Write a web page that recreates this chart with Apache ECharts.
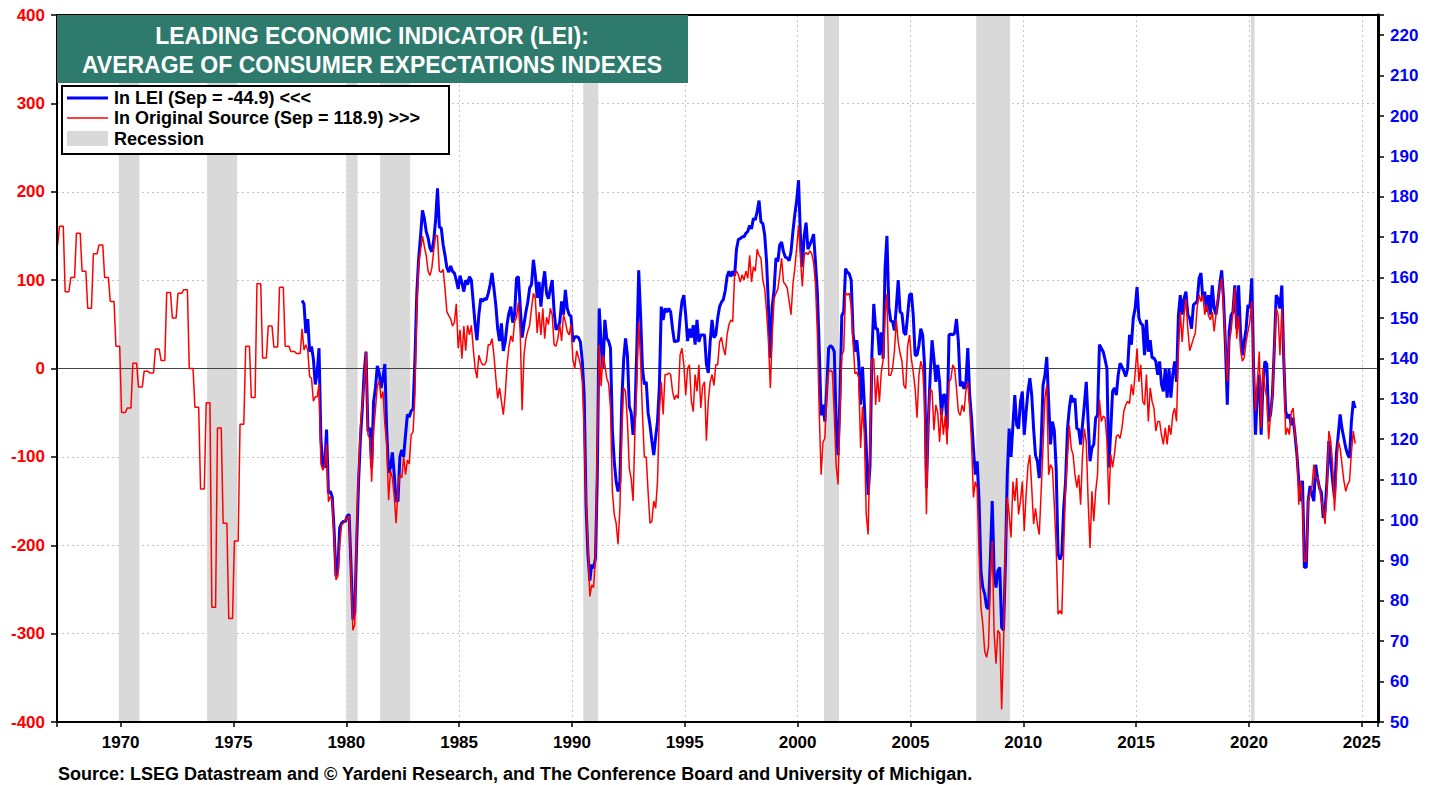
<!DOCTYPE html>
<html>
<head>
<meta charset="utf-8">
<title>LEI: Average of Consumer Expectations Indexes</title>
<script src="https://cdn.jsdelivr.net/npm/echarts@6.0.0/dist/echarts.min.js"></script>
<style>
  html, body { margin: 0; padding: 0; background: #fff; }
  #chart { width: 1439px; height: 785px; }
</style>
</head>
<body>
<div id="chart"></div>
<script>
// NBER recessions: [startYear, startMonth, endYear, endMonth]
const recessions = [
  [1969, 12, 1970, 11],
  [1973, 11, 1975, 3],
  [1980, 1, 1980, 7],
  [1981, 7, 1982, 11],
  [1990, 7, 1991, 3],
  [2001, 3, 2001, 11],
  [2007, 12, 2009, 6],
  [2020, 2, 2020, 4]
];

// In original source, quarterly 1967Q1 - 1977Q4 (series starts Feb 1967)
const origQuarterly = [
  168.1, 172.7, 156.5, 160.0,
  171.0, 161.6, 152.4, 165.9,
  168.1, 160.0, 154.1, 143.0,
  126.6, 127.7, 138.8, 132.9,
  136.8, 136.4, 142.3, 139.5,
  156.3, 150.0, 156.1, 157.0,
  137.5, 127.9, 107.7, 129.0,
  78.4, 122.8, 99.2, 75.6,
  94.8, 123.7, 143.0, 130.3,
  158.5, 140.1, 148.0, 142.8,
  157.6, 143.0, 141.7, 141.2
];

// In original source, monthly from Jan 1978
const origFrom1978 = [
  147.3, 142.1, 143.4, 142.1, 135.5, 135.1, 129.4, 130.5, 130.5, 133.6, 113.9, 112.3,
  113.4, 118.9, 104.5, 105.8, 104.7, 95.9, 85.2, 86.1, 93.8, 98.8, 99.2, 100.1,
  100.5, 101.0, 87.2, 72.7, 74.1, 97.7, 111.2, 122.8, 128.8, 133.6, 141.7, 121.1,
  120.2, 109.5, 122.0, 127.4, 133.1, 134.4, 130.1, 131.8, 123.7, 118.9, 104.9, 112.3,
  110.4, 105.8, 99.2, 107.7, 111.2, 110.4, 115.6, 111.2, 114.8, 113.9, 121.1, 121.8,
  130.9, 152.8, 163.3, 166.8, 170.3, 167.7, 165.5, 161.6, 160.5, 162.4, 166.8, 170.5,
  170.3, 161.6, 161.3, 162.0, 157.2, 151.5, 150.6, 149.8, 148.0, 148.9, 153.5, 142.5,
  147.1, 139.9, 148.0, 141.9, 148.2, 145.8, 148.2, 142.5, 137.5, 135.1, 140.8, 139.3,
  138.4, 138.4, 139.3, 143.4, 143.4, 144.9, 140.8, 135.3, 130.1, 132.7, 129.4, 126.1,
  130.9, 138.4, 143.0, 145.6, 144.1, 149.1, 150.0, 153.9, 146.3, 127.2, 140.8, 144.9,
  146.7, 148.2, 152.4, 156.1, 155.0, 146.3, 151.5, 145.8, 152.4, 144.9, 150.2, 148.4,
  152.4, 150.8, 143.4, 143.0, 144.9, 148.4, 144.3, 150.8, 149.1, 146.7, 145.8, 148.4
];
const origFrom1990 = [
  139.7, 137.5, 141.9, 140.3, 138.4, 134.2, 122.0, 104.7, 93.8, 81.1, 83.9, 83.3,
  90.7, 117.8, 143.4, 133.1, 140.8, 138.4, 135.1, 133.8, 127.7, 106.9, 101.4, 99.2,
  94.0, 102.9, 122.0, 132.7, 131.8, 124.4, 112.8, 110.2, 104.7, 122.0, 134.2, 149.1,
  139.7, 126.1, 115.6, 115.6, 106.9, 99.2, 99.7, 104.7, 102.9, 109.5, 126.6, 134.2,
  126.1, 136.0, 136.0, 136.4, 136.0, 131.8, 129.8, 130.9, 130.1, 140.8, 142.5, 138.4,
  130.9, 137.5, 138.4, 129.4, 126.8, 136.0, 131.8, 138.4, 127.7, 133.1, 134.2, 119.6,
  129.4, 134.2, 136.0, 133.3, 138.4, 138.4, 144.1, 145.2, 142.5, 140.8, 145.8, 148.4,
  149.5, 149.1, 160.7, 161.6, 160.7, 158.9, 160.7, 159.4, 161.6, 159.8, 165.5, 158.9,
  162.7, 161.6, 167.0, 165.5, 164.8, 159.4, 157.2, 151.7, 144.1, 132.7, 145.8, 154.8,
  156.1, 157.2, 160.7, 164.8, 158.9, 158.3, 157.4, 154.1, 150.8, 158.3, 162.2, 167.3
];
const origFrom2000 = [
  172.9, 164.8, 157.8, 165.5, 166.2, 165.7, 166.6, 165.9, 163.8, 158.3, 146.3, 126.6,
  111.2, 119.3, 120.2, 131.8, 136.6, 137.1, 136.6, 125.9, 113.4, 108.8, 126.6, 140.8,
  141.9, 156.3, 155.7, 156.1, 152.8, 144.1, 136.2, 136.6, 135.3, 117.8, 128.1, 121.1,
  101.4, 96.4, 118.7, 139.9, 139.9, 128.5, 135.8, 129.2, 136.6, 139.7, 150.6, 155.9,
  135.8, 135.8, 137.5, 141.9, 149.5, 144.1, 141.2, 139.3, 133.3, 132.5, 143.0, 145.8,
  139.9, 136.6, 132.5, 125.3, 135.8, 139.3, 137.5, 128.8, 101.4, 124.4, 132.5, 131.8,
  122.2, 128.5, 126.6, 119.3, 127.7, 121.1, 125.9, 118.7, 134.2, 134.9, 138.4, 137.5,
  132.5, 126.8, 125.9, 128.5, 126.8, 132.0, 134.2, 127.7, 119.3, 105.6, 109.5, 108.0,
  91.6, 78.4, 74.1, 67.5, 66.0, 68.6, 85.0, 94.8, 71.9, 64.4, 72.7, 71.9,
  53.1, 68.6, 93.1, 105.6, 101.4, 95.7, 109.5, 104.7, 110.4, 101.4, 104.7, 109.5
];
const origFrom2010 = [
  97.3, 106.2, 113.4, 116.1, 108.0, 99.0, 102.9, 99.0, 96.4, 106.9, 117.8, 130.1,
  133.3, 111.2, 113.7, 112.8, 103.8, 93.1, 76.7, 77.6, 76.7, 93.1, 108.0, 115.6,
  123.5, 117.8, 116.1, 111.2, 108.0, 111.2, 103.8, 116.1, 122.6, 119.3, 104.7, 93.1,
  107.1, 99.7, 107.1, 111.2, 129.8, 124.4, 125.7, 125.3, 119.6, 103.8, 116.3, 113.0,
  116.3, 120.7, 121.1, 120.2, 122.8, 127.0, 128.5, 129.4, 128.8, 133.6, 130.9, 136.4,
  142.5, 134.2, 138.4, 129.4, 128.5, 136.0, 124.4, 132.7, 129.4, 127.7, 122.0, 124.4,
  124.4, 121.1, 118.7, 122.8, 118.7, 123.5, 121.1, 126.1, 127.7, 124.4, 141.7, 151.5,
  144.1, 150.8, 154.8, 147.3, 141.9, 143.4, 144.9, 146.3, 152.8, 155.7, 154.1, 155.7,
  150.8, 153.3, 150.6, 149.5, 151.5, 146.7, 150.8, 154.8, 157.4, 159.8, 152.8, 144.1,
  134.2, 144.1, 146.7, 151.5, 157.4, 144.9, 150.6, 142.5, 139.3, 140.1, 144.1, 146.7,
  149.1, 154.1, 137.5, 127.0, 134.2, 141.7, 122.8, 137.5, 132.7, 130.3, 120.0, 126.1,
  130.3, 142.5, 152.4, 150.8, 140.8, 152.4, 142.5, 121.1, 122.8, 121.1, 126.6, 127.7,
  121.1, 117.8, 103.8, 109.7, 103.8, 89.8, 89.8, 104.7, 106.4, 108.0, 113.7, 110.4,
  110.4, 108.0, 104.7, 102.3, 99.0, 108.0, 122.0, 119.6, 113.7, 102.3, 111.2, 119.6,
  117.8, 113.7, 109.7, 107.1, 108.8, 109.7, 116.7, 122.0, 118.9
];

// In LEI, monthly from Jan 1978
const leiFrom1978 = [
  77, 73, 40, 56, 19, 25, 11, -18, -5, 23, -80, -110,
  -112, -69, -141, -139, -145, -182, -235, -227, -180, -175, -173, -173,
  -167, -165, -223, -284, -276, -200, -130, -80, -46, -5, 19, -71,
  -67, -112, -38, -22, 3, -5, -22, -10, 5, -70, -118, -112,
  -95, -120, -150, -150, -100, -92, -100, -75, -52, -55, -48, -46,
  10, 85, 125, 150, 179, 170, 155, 148, 136, 132, 145, 168,
  204, 160, 159, 140, 128, 114, 109, 116, 110, 108, 100, 90,
  105, 97, 87, 100, 95, 104, 100, 75, 50, 32, 61, 79,
  76, 79, 78, 85, 95, 108, 91, 72, 45, 31, 51, 20,
  30, 50, 63, 70, 52, 61, 102, 104, 70, 35, 50, 64,
  75, 91, 95, 123, 106, 80, 98, 70, 95, 110, 85, 79,
  90, 100, 65, 44, 46, 52, 76, 61, 89, 68, 61, 59
];
const leiFrom1990 = [
  30, 36, 36, 35, 30, 8, -30, -155, -210, -240, -222, -226,
  -215, -120, 68, 30, 0, 55, 34, 31, 23, -70, -105, -128,
  -139, -128, -37, 10, 34, 15, -43, -50, -75, -52, 23, 111,
  60, 0, -18, -15, -50, -64, -82, -98, -78, -60, -20, 70,
  55, 68, 64, 68, 64, 45, 30, 31, 31, 57, 76, 83,
  60, 31, 45, 35, 49, 27, 55, 30, 38, 38, 38, 5,
  -5, 30, 55, 35, 38, 57, 70, 75, 78, 88, 104, 110,
  104, 110, 105, 135, 146, 147, 149, 149, 153, 155, 162, 158,
  170, 168, 178, 190, 166, 164, 151, 121, 70, 12, 70, 89,
  125, 121, 140, 143, 132, 126, 125, 122, 132, 155, 174, 190
];
const leiFrom2000 = [
  213, 150, 115, 150, 165, 135, 140, 145, 152, 120, 86, 23,
  -53, -41, -60, -23, 23, 26, 24, 19, -64, -98, -34, 60,
  64, 113, 109, 107, 100, 40, 19, 32, 8, -41, 2, -41,
  -90, -143, -110, 15, 73, 45, 45, 15, 41, 11, 113, 150,
  70, 54, 53, 43, 70, 100, 64, 62, 41, 38, 60, 83,
  85, 60, 15, 15, 26, 45, 38, 4, -135, -60, -8, 32,
  11, -15, 4, -15, -53, -30, -30, -68, 38, 39, 38, 40,
  56, 30, -20, -15, -23, -15, 23, -30, -56, -90, -120, -105,
  -150, -230, -248, -255, -270, -272, -215, -150, -230, -248, -229, -225,
  -293, -296, -221, -120, -68, -100, -64, -30, -64, -68, -38, -26
];
const leiFrom2010 = [
  -75, -50, -26, -11, -30, -68, -98, -105, -124, -85, -19, -8,
  13, -38, -86, -60, -70, -113, -210, -216, -210, -158, -128, -69,
  -45, -30, -38, -34, -68, -69, -86, -64, -41, -15, -60, -105,
  -90, -86, -56, -53, 27, 23, 19, 10, 0, -112, -71, -26,
  -22, -30, -7, 6, 2, -3, -9, 0, 38, 27, 57, 68,
  92, 57, 51, 49, 15, 55, 19, 32, 12, 12, 8, -7,
  8, -18, -26, 0, -33, 0, -33, -7, 8, -15, 60, 83,
  61, 79, 87, 61, 57, 45, 72, 74, 76, 102, 108, 78,
  87, 64, 83, 61, 94, 68, 61, 76, 95, 111, 79, 27,
  -41, 42, 60, 64, 94, 45, 94, 42, 15, 30, 45, 72,
  68, 102, 0, -75, -26, -7, -75, -15, 8, 5, -60, -52,
  -30, 23, 83, 79, 68, 94, 12, -48, -56, -52, -64, -56,
  -75, -97, -127, -150, -127, -225, -225, -150, -133, -142, -150, -109,
  -124, -135, -140, -169, -161, -127, -82, -105, -127, -146, -97, -75,
  -52, -68, -79, -90, -97, -101, -60, -37, -44.9
];

const FONT = '"Liberation Sans", Arial, sans-serif';

// monthly values -> [decimal year (mid-month), value]
function toPoints(startYear, values) {
  return values.map((v, i) => [startYear + (i + 0.5) / 12, v]);
}

const origEarly = [];
for (let m = 1; m < origQuarterly.length * 3; m++) {
  origEarly.push([1967 + (m + 0.5) / 12, origQuarterly[Math.floor(m / 3)]]);
}
const origData = origEarly.concat(
  toPoints(1978, origFrom1978),
  toPoints(1990, origFrom1990),
  toPoints(2000, origFrom2000),
  toPoints(2010, origFrom2010)
);
const leiData = [].concat(
  toPoints(1978, leiFrom1978),
  toPoints(1990, leiFrom1990),
  toPoints(2000, leiFrom2000),
  toPoints(2010, leiFrom2010)
);

const recessionAreas = recessions.map(r => [
  { xAxis: r[0] + (r[1] - 1) / 12 },
  { xAxis: r[2] + (r[3] - 1) / 12 }
]);

const gridLine = { show: true, lineStyle: { color: '#c4c4c4', type: [2, 3], width: 1 } };

const option = {
  animation: false,
  backgroundColor: '#fff',
  grid: {
    left: 57, right: 61, top: 15, bottom: 63,
    show: true, borderColor: '#000', borderWidth: 2
  },
  xAxis: {
    type: 'value',
    min: 1967.18,
    max: 2025.72,
    splitNumber: 12,
    axisLine: { onZero: false, lineStyle: { color: '#000', width: 2 } },
    axisTick: { show: true, length: 5, lineStyle: { color: '#000', width: 1.5 } },
    axisLabel: {
      color: '#000', fontFamily: FONT, fontWeight: 'bold', fontSize: 17, margin: 12,
      showMinLabel: true, showMaxLabel: true,
      formatter: (v) => (Math.abs(v % 5) < 1e-6 ? String(Math.round(v)) : '')
    },
    splitLine: gridLine
  },
  yAxis: [
    {
      type: 'value', position: 'left',
      min: -400, max: 400, interval: 100,
      axisLine: { show: true, lineStyle: { color: '#000', width: 2 } },
      axisTick: { show: true, length: 6, lineStyle: { color: '#000', width: 1.5 } },
      axisLabel: { color: '#ff0000', fontFamily: FONT, fontWeight: 'bold', fontSize: 17, margin: 12 },
      splitLine: gridLine
    },
    {
      type: 'value', position: 'right',
      min: 50, max: 225, interval: 10,
      axisLine: { show: true, lineStyle: { color: '#000', width: 3 } },
      axisTick: { show: true, length: 6, lineStyle: { color: '#000', width: 1.5 } },
      axisLabel: {
        color: '#0000ff', fontFamily: FONT, fontWeight: 'bold', fontSize: 17, margin: 12,
        formatter: (v) => (v % 10 === 0 ? String(v) : '')
      },
      splitLine: { show: false }
    }
  ],
  series: [
    {
      name: 'In LEI',
      type: 'line',
      yAxisIndex: 0,
      data: leiData,
      showSymbol: false,
      z: 3,
      lineStyle: { color: '#0000ff', width: 3 },
      markArea: {
        silent: true,
        z: 1,
        itemStyle: { color: '#d9d9d9' },
        data: recessionAreas
      },
      markLine: {
        silent: true,
        z: 2,
        symbol: ['none', 'none'],
        label: { show: false },
        lineStyle: { color: '#444', width: 1, type: 'solid' },
        data: [{ yAxis: 0 }]
      }
    },
    {
      name: 'In Original Source',
      type: 'line',
      yAxisIndex: 1,
      data: origData,
      showSymbol: false,
      z: 4,
      lineStyle: { color: '#ff0000', width: 1.5 }
    }
  ],
  graphic: [
    // solid frame over the dotted gridlines at the plot edges
    { type: 'rect', z: 50, silent: true, shape: { x: 57, y: 15, width: 1321, height: 707 }, style: { fill: 'none', stroke: '#000', lineWidth: 2 } },
    { type: 'rect', z: 100, shape: { x: 57, y: 15, width: 631, height: 68 }, style: { fill: '#2e7b6d' } },
    { type: 'text', z: 101, x: 372, y: 36, style: { text: 'LEADING ECONOMIC INDICATOR (LEI):', fill: '#fff', font: 'bold 23px ' + FONT, align: 'center', verticalAlign: 'middle' } },
    { type: 'text', z: 101, x: 372, y: 65, style: { text: 'AVERAGE OF CONSUMER EXPECTATIONS INDEXES', fill: '#fff', font: 'bold 23px ' + FONT, align: 'center', verticalAlign: 'middle' } },
    { type: 'rect', z: 100, shape: { x: 62, y: 86, width: 387, height: 68 }, style: { fill: '#fff', stroke: '#000', lineWidth: 2 } },
    { type: 'line', z: 101, shape: { x1: 67, y1: 98, x2: 108, y2: 98 }, style: { stroke: '#0000ff', lineWidth: 3 } },
    { type: 'text', z: 101, x: 114, y: 98, style: { text: 'In LEI (Sep = -44.9) <<<', fill: '#000', font: 'bold 18px ' + FONT, align: 'left', verticalAlign: 'middle' } },
    { type: 'line', z: 101, shape: { x1: 67, y1: 118, x2: 108, y2: 118 }, style: { stroke: '#ff0000', lineWidth: 1.5 } },
    { type: 'text', z: 101, x: 114, y: 118, style: { text: 'In Original Source (Sep = 118.9) >>>', fill: '#000', font: 'bold 18px ' + FONT, align: 'left', verticalAlign: 'middle' } },
    { type: 'rect', z: 101, shape: { x: 67, y: 131, width: 41, height: 15 }, style: { fill: '#d9d9d9' } },
    { type: 'text', z: 101, x: 114, y: 139, style: { text: 'Recession', fill: '#000', font: 'bold 18px ' + FONT, align: 'left', verticalAlign: 'middle' } },
    { type: 'text', z: 101, x: 58, y: 774, style: { text: 'Source: LSEG Datastream and \u00a9 Yardeni Research, and The Conference Board and University of Michigan.', fill: '#000', font: 'bold 18px ' + FONT, align: 'left', verticalAlign: 'middle' } }
  ]
};

const chart = echarts.init(document.getElementById('chart'), null, { renderer: 'svg' });
chart.setOption(option);
</script>
</body>
</html>
